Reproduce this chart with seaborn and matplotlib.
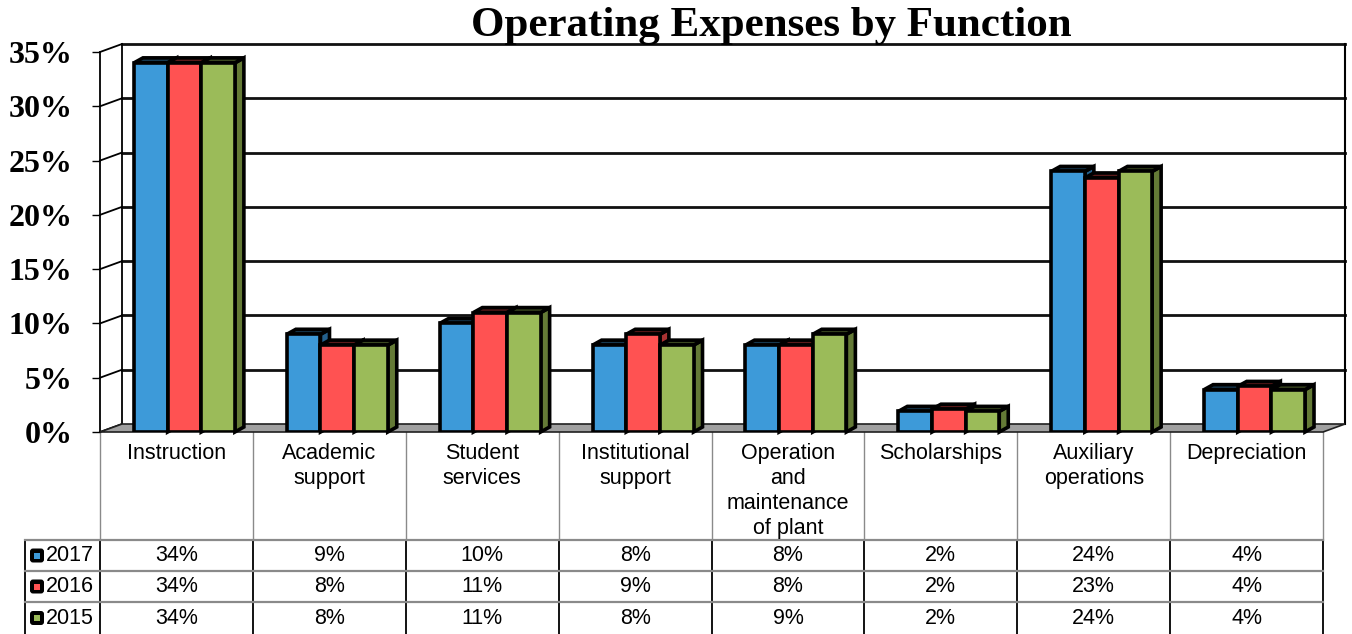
import pandas as pd
import matplotlib
matplotlib.use('Agg')
import matplotlib.pyplot as plt
import seaborn as sns
from matplotlib.patches import Polygon, FancyBboxPatch, Rectangle

# =========================
# Data
# =========================
categories = ['Instruction', 'Academic\nsupport', 'Student\nservices', 'Institutional\nsupport',
              'Operation\nand\nmaintenance\nof plant', 'Scholarships', 'Auxiliary\noperations',
              'Depreciation']
years = ['2017', '2016', '2015']
pct_2017 = [34.0, 9.0, 10.0, 8.0, 8.0, 1.9, 24.0, 3.9]
pct_2016 = [34.0, 8.0, 11.0, 9.0, 8.0, 2.1, 23.4, 4.2]
pct_2015 = [34.0, 8.0, 11.0, 8.0, 9.0, 1.9, 24.0, 3.9]
y_ticks = [0, 5, 10, 15, 20, 25, 30, 35]

colors = ['#3D9AD9', '#FF5252', '#9BBB59']
side_colors = ['#24608C', '#A83232', '#647A36']
top_colors = ['#16384F', '#5A1A1A', '#3A4720']

df = pd.DataFrame({
    'category': categories * 3,
    'year': [y for y in years for _ in categories],
    'value': pct_2017 + pct_2016 + pct_2015,
})

W, H = 1352, 634
serif = 'Liberation Serif'
sans = 'Liberation Sans'

fig = plt.figure(figsize=(W / 100, H / 100), dpi=100)
tab = fig.add_axes([0, 0, 1, 1], zorder=0)
tab.set_xlim(0, W)
tab.set_ylim(H, 0)
tab.axis('off')

ax = fig.add_axes([100 / W, 1 - 432 / H, 1223 / W, 380 / H], zorder=1)
ax.patch.set_visible(False)

# =========================
# Bars (seaborn) + 3D faces
# =========================
sns.barplot(data=df, x='category', y='value', hue='year', order=categories, hue_order=years,
            palette=colors, saturation=1, width=0.66, gap=0, edgecolor='black', linewidth=2.6,
            legend=False, ax=ax)
bars = list(ax.patches)
ax.set_xlim(-0.5, 7.5)
ax.set_ylim(0, 35)

ppx = 1 / 152.9          # data units per pixel (x)
ppy = 35 / 380           # data units per pixel (y)
wall_dx, wall_dy = 22 * ppx, 8 * ppy
bar_dx, bar_dy = 9 * ppx, 5 * ppy
shift = 8 * ppx

for i, b in enumerate(bars):
    k = i // len(categories)
    b.set_x(b.get_x() + shift)
    x0, w, h = b.get_x(), b.get_width(), b.get_height()
    z = 3 + x0 * 0.1
    b.set_zorder(z)
    side = Polygon([(x0 + w, 0), (x0 + w + bar_dx, bar_dy), (x0 + w + bar_dx, h + bar_dy), (x0 + w, h)],
                   closed=True, facecolor=side_colors[k], edgecolor='black', linewidth=2.6,
                   zorder=z - 0.001, clip_on=False)
    top = Polygon([(x0, h), (x0 + w, h), (x0 + w + bar_dx, h + bar_dy), (x0 + bar_dx, h + bar_dy)],
                  closed=True, facecolor=top_colors[k], edgecolor='black', linewidth=2.6,
                  zorder=z - 0.001, clip_on=False)
    ax.add_patch(side)
    ax.add_patch(top)

# =========================
# Walls, floor, gridlines
# =========================
L, R = -0.5, 7.5
ax.add_patch(Polygon([(L, 0), (R, 0), (R + wall_dx, wall_dy), (L + wall_dx, wall_dy)], closed=True,
                     facecolor='#A0A0A0', edgecolor='#202020', linewidth=1.2, zorder=2, clip_on=False))
for t in y_ticks:
    ax.plot([L, L + wall_dx], [t, t + wall_dy], color='black', lw=1.3, zorder=1, clip_on=False)
    if t > 0:
        ax.plot([L + wall_dx, R + wall_dx], [t + wall_dy, t + wall_dy], color='#111111', lw=2,
                zorder=1, clip_on=False)
ax.plot([L, L], [0, 35], color='black', lw=1.3, zorder=1, clip_on=False)
ax.plot([L + wall_dx, L + wall_dx], [wall_dy, 35 + wall_dy], color='black', lw=1.3, zorder=1, clip_on=False)
ax.plot([R + wall_dx, R + wall_dx], [wall_dy, 35 + wall_dy], color='black', lw=1.5, zorder=1, clip_on=False)

for s in ax.spines.values():
    s.set_visible(False)
ax.set_xticks([])
ax.set_xlabel('')
ax.set_ylabel('')
ax.set_yticks(y_ticks)
ax.set_yticklabels([f'{t}%' for t in y_ticks])
ax.tick_params(axis='y', length=5.8, width=1, pad=14, labelsize=23)
for lab in ax.get_yticklabels():
    lab.set_fontfamily(serif)
    lab.set_fontweight('bold')

fig.text(771 / W, 1 - 26 / H, 'Operating Expenses by Function', ha='center', va='center',
         fontsize=31, fontweight='bold', family=serif, zorder=5)

# =========================
# Data table
# =========================
def px(xd):
    return ax.transData.transform((xd, 0))[0]

edges = [px(k - 0.5) for k in range(len(categories) + 1)]
row_y = [540, 571, 602, 634]
left = 25

for e in edges:
    tab.plot([e, e], [432, 540], color='#8A8A8A', lw=1)
    tab.plot([e, e], [540, 634], color='black', lw=1.3)
tab.plot([left, left], [540, 634], color='black', lw=1.3)
for y in row_y[:-1]:
    tab.plot([left, edges[-1]], [y, y], color='#8A8A8A', lw=1.6)

for j, name in enumerate(categories):
    tab.text(px(j), 443, name, ha='center', va='top', fontsize=15.5, family=sans,
             linespacing=1.26)

for k, (yr, vals) in enumerate(zip(years, [pct_2017, pct_2016, pct_2015])):
    yc = (row_y[k] + row_y[k + 1]) / 2
    tab.add_patch(FancyBboxPatch((30, yc - 7), 14, 14, boxstyle='round,pad=0,rounding_size=3',
                                 facecolor='black', edgecolor='none'))
    tab.add_patch(Rectangle((34, yc - 3), 6, 6, facecolor=colors[k], edgecolor='none'))
    tab.text(46, yc, yr, ha='left', va='center', fontsize=15.5, family=sans)
    for j, v in enumerate(vals):
        tab.text(px(j), yc, f'{v:.0f}%', ha='center', va='center', fontsize=15.5, family=sans)

fig.savefig('out.png', dpi=100)
